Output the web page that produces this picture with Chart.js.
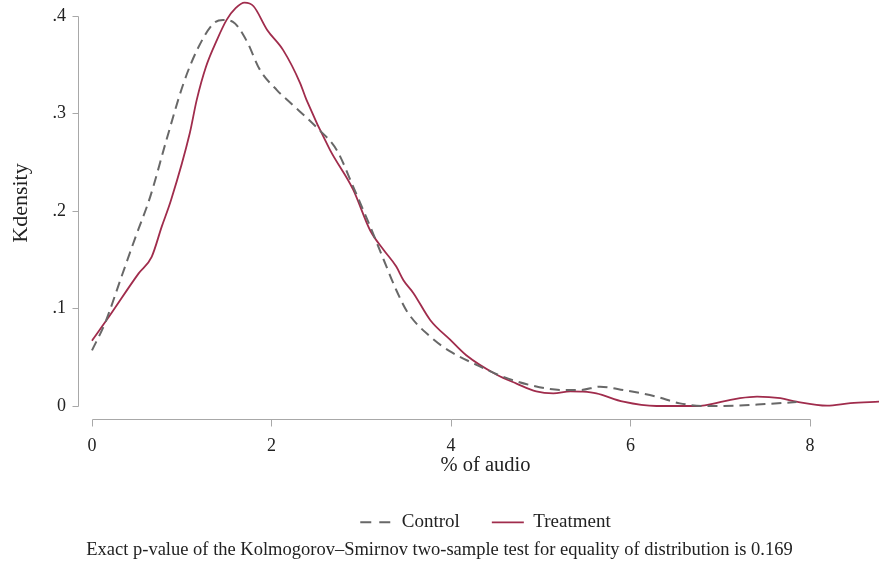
<!DOCTYPE html>
<html><head><meta charset="utf-8">
<script src="https://cdn.jsdelivr.net/npm/chart.js@4"></script>
<style>html,body{margin:0;padding:0;background:#fff}#wrap{width:879px;height:567px}</style>
</head><body><div id="wrap"><canvas id="c" width="879" height="567"></canvas></div>
<script>
const seriesNames = ['Control', 'Treatment'];
const controlX = [0, 0.145, 0.33, 0.48, 0.65, 0.83, 1.02, 1.17, 1.35, 1.46, 1.57, 1.72, 1.87, 2.06, 2.21, 2.50, 2.73, 2.91, 3.10, 3.25, 3.39, 3.51, 3.77, 3.99, 4.29, 4.58, 4.88, 5.25, 5.45, 5.66, 5.92, 6.29, 6.55, 6.85, 7.22, 7.50, 7.85];
const controlY = [0.057, 0.085, 0.133, 0.172, 0.215, 0.273, 0.331, 0.365, 0.392, 0.396, 0.394, 0.375, 0.345, 0.324, 0.311, 0.286, 0.262, 0.225, 0.184, 0.150, 0.119, 0.097, 0.071, 0.056, 0.042, 0.030, 0.0215, 0.0164, 0.0165, 0.0198, 0.0164, 0.0096, 0.0027, 0.0, 0.0005, 0.002, 0.004];
const treatmentX = [0, 0.2, 0.52, 0.665, 0.777, 0.88, 1.09, 1.167, 1.27, 1.39, 1.50, 1.60, 1.70, 1.80, 1.95, 2.13, 2.32, 2.39, 2.65, 2.91, 3.10, 3.25, 3.39, 3.47, 3.58, 3.77, 3.99, 4.17, 4.51, 4.73, 4.95, 5.14, 5.33, 5.47, 5.62, 5.92, 6.29, 6.74, 7.05, 7.22, 7.41, 7.67, 7.85, 8.19, 8.45, 8.77];
const treatmentY = [0.067, 0.093, 0.136, 0.153, 0.184, 0.211, 0.280, 0.314, 0.348, 0.375, 0.396, 0.408, 0.4137, 0.410, 0.386, 0.365, 0.331, 0.314, 0.263, 0.222, 0.180, 0.160, 0.143, 0.129, 0.116, 0.088, 0.068, 0.052, 0.032, 0.023, 0.015, 0.013, 0.015, 0.0147, 0.013, 0.0044, 0.0, 0.0, 0.005, 0.008, 0.0096, 0.008, 0.0044, 0.0003, 0.003, 0.0044];
const xTickValues = [0, 2, 4, 6, 8];
const xTickLabels = ['0', '2', '4', '6', '8'];
const yTickValues = [0, 0.1, 0.2, 0.3, 0.4];
const yTickLabels = ['0', '.1', '.2', '.3', '.4'];
const xTitle = '% of audio';
const yTitle = 'Kdensity';
const noteText = 'Exact p-value of the Kolmogorov\u2013Smirnov two-sample test for equality of distribution is 0.169';

const FONT = '"Liberation Serif", "Times New Roman", serif';
const TEXT = '#222';
const AXIS = '#a8a8a8';
const CONTROL_COLOR = '#686868';
const TREAT_COLOR = '#a02c4c';
const CONTROL_DASH = [10, 6];

const toPoints = (xs, ys) => xs.map((x, i) => ({x, y: ys[i]}));

const axisLines = {
  id: 'axisLines',
  beforeDatasetsDraw(chart) {
    const {ctx, chartArea, scales: {x, y}} = chart;
    ctx.save();
    ctx.strokeStyle = AXIS;
    ctx.lineWidth = 1;
    ctx.beginPath();
    const ax = Math.round(chartArea.left - 14) + 0.5;
    const yb = y.getPixelForValue(yTickValues[0]);
    const yt = y.getPixelForValue(yTickValues[yTickValues.length - 1]);
    ctx.moveTo(ax, Math.round(yb) + 0.5);
    ctx.lineTo(ax, Math.round(yt) + 0.5);
    yTickValues.forEach(v => {
      const p = Math.round(y.getPixelForValue(v)) + 0.5;
      ctx.moveTo(ax, p); ctx.lineTo(ax - 6, p);
    });
    const ay = Math.round(chartArea.bottom + 13) + 0.5;
    const xl = x.getPixelForValue(xTickValues[0]);
    const xr = x.getPixelForValue(xTickValues[xTickValues.length - 1]);
    ctx.moveTo(Math.round(xl) + 0.5, ay);
    ctx.lineTo(Math.round(xr) + 0.5, ay);
    xTickValues.forEach(v => {
      const p = Math.round(x.getPixelForValue(v)) + 0.5;
      ctx.moveTo(p, ay); ctx.lineTo(p, ay + 7);
    });
    ctx.stroke();
    ctx.restore();
  }
};

new Chart(document.getElementById('c'), {
  type: 'line',
  data: {
    datasets: [
      {
        label: seriesNames[0],
        data: toPoints(controlX, controlY),
        borderColor: CONTROL_COLOR,
        backgroundColor: CONTROL_COLOR,
        borderWidth: 2,
        borderDash: CONTROL_DASH,
        pointRadius: 0,
        cubicInterpolationMode: 'monotone',
        fill: false,
        clip: false
      },
      {
        label: seriesNames[1],
        data: toPoints(treatmentX, treatmentY),
        borderColor: TREAT_COLOR,
        backgroundColor: TREAT_COLOR,
        borderWidth: 1.8,
        pointRadius: 0,
        cubicInterpolationMode: 'monotone',
        fill: false,
        clip: false
      }
    ]
  },
  options: {
    responsive: false,
    animation: false,
    devicePixelRatio: 1,
    layout: {padding: {top: 0, right: 0, bottom: 6, left: 0}},
    scales: {
      x: {
        type: 'linear',
        min: 0,
        max: 8.769,
        afterBuildTicks(s) { s.ticks = xTickValues.map(v => ({value: v})); },
        afterFit(s) { s.height = 74.8; },
        grid: {display: false, drawTicks: false},
        border: {display: false},
        ticks: {
          padding: 29,
          autoSkip: false,
          maxRotation: 0,
          color: TEXT,
          font: {family: FONT, size: 18},
          callback: (v, i) => xTickLabels[i]
        },
        title: {display: true, text: xTitle, color: TEXT, font: {family: FONT, size: 20.5}, padding: {top: 0, bottom: 2.5}}
      },
      y: {
        type: 'linear',
        min: 0,
        max: 0.4164,
        afterBuildTicks(s) { s.ticks = yTickValues.map(v => ({value: v})); },
        afterFit(s) { s.width = 92; s.paddingTop = 0; s.paddingBottom = 0; },
        grid: {display: false, drawTicks: true, tickLength: 26, color: 'rgba(0,0,0,0)'},
        border: {display: false},
        ticks: {
          padding: 0,
          autoSkip: false,
          color: TEXT,
          font: {family: FONT, size: 18, lineHeight: 0.1},
          callback: (v, i) => yTickLabels[i]
        },
        title: {display: true, text: yTitle, color: TEXT, font: {family: FONT, size: 22}, padding: {top: 8, bottom: 0}}
      }
    },
    plugins: {
      legend: {
        display: true,
        position: 'bottom',
        fullSize: false,
        labels: {
          usePointStyle: true,
          pointStyle: 'line',
          pointStyleWidth: 32,
          boxWidth: 32,
          padding: 32,
          color: TEXT,
          font: {family: FONT, size: 19},
          generateLabels(chart) {
            const items = Chart.defaults.plugins.legend.labels.generateLabels(chart);
            return items.map(it => {
              const ds = chart.data.datasets[it.datasetIndex];
              it.lineDash = ds.borderDash ? [11, 8] : [];
              it.strokeStyle = ds.borderColor;
              it.lineWidth = ds.borderWidth;
              return it;
            });
          }
        }
      },
      subtitle: {
        display: true,
        position: 'bottom',
        text: noteText,
        color: TEXT,
        font: {family: FONT, size: 18.5, weight: 'normal'},
        padding: {top: -3, bottom: 0}
      },
      tooltip: {enabled: false}
    }
  },
  plugins: [axisLines]
});
</script>
</body></html>
